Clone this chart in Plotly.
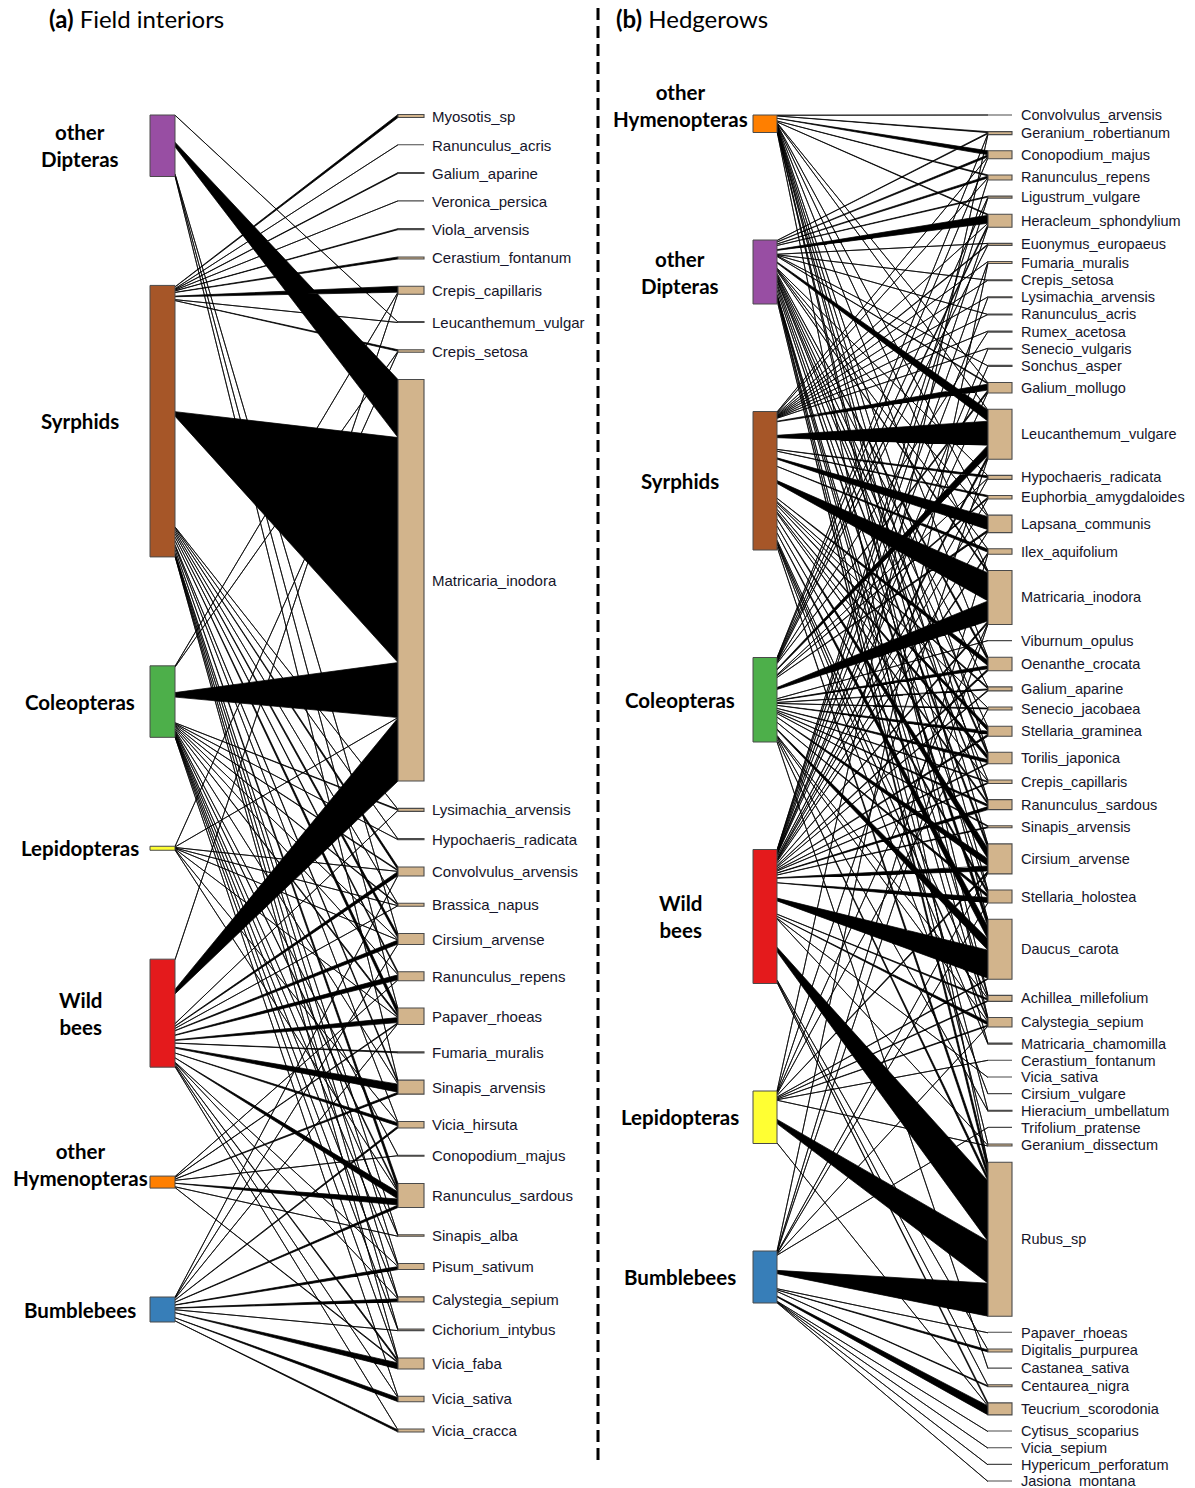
"""
Pollinator-plant webs: (a) field interiors, (b) hedgerows.
Bipartite plot: insect groups on the left, plants on the right,
link wedge width = number of interactions at the plant end.
"""
import plotly.graph_objects as go

# ── (a) Field interiors ───────────────────────────────────────────────────
FIELD_PLANTS = [
    "Myosotis_sp", "Ranunculus_acris", "Galium_aparine", "Veronica_persica",
    "Viola_arvensis", "Cerastium_fontanum", "Crepis_capillaris", "Leucanthemum_vulgar",
    "Crepis_setosa", "Matricaria_inodora", "Lysimachia_arvensis", "Hypochaeris_radicata",
    "Convolvulus_arvensis", "Brassica_napus", "Cirsium_arvense", "Ranunculus_repens",
    "Papaver_rhoeas", "Fumaria_muralis", "Sinapis_arvensis", "Vicia_hirsuta",
    "Conopodium_majus", "Ranunculus_sardous", "Sinapis_alba", "Pisum_sativum",
    "Calystegia_sepium", "Cichorium_intybus", "Vicia_faba", "Vicia_sativa", "Vicia_cracca",
]
FIELD_GROUPS = ["other\nDipteras", "Syrphids", "Coleopteras", "Lepidopteras",
                "Wild\nbees", "other\nHymenopteras", "Bumblebees"]
field_other_dipteras = [0, 0, 0, 0, 0, 0, 0, 0.5, 0, 58, 0, 0, 0, 0, 1, 0, 1, 0, 1, 0,
                        0, 0, 0, 0, 0, 0, 0, 0, 0]
field_syrphids = [3, 0.5, 1, 0.5, 1, 2, 6, 0.5, 1.5, 225, 1, 0.5, 3, 1, 4, 2, 6, 0, 2, 1,
                  0, 6, 0.5, 1, 1, 0.5, 1, 0, 0]
field_coleopteras = [0, 0, 0, 0, 0, 0, 1, 0, 0.5, 55, 1, 0.5, 1, 1, 1, 1, 2, 0, 1, 0,
                     0.5, 2, 0.5, 1, 0.5, 0.5, 1, 0.5, 0]
field_lepidopteras = [0, 0, 0, 0, 0, 0, 0, 0, 0.5, 0.5, 0, 0, 0.5, 0.5, 0.5, 0, 0.5, 0, 0, 0.5,
                      0, 0.5, 0, 0, 0, 0, 0, 0, 0]
field_wild_bees = [0, 0, 0, 0, 0, 0, 1, 0, 0, 63, 1, 0, 4, 0.5, 4, 5, 5, 1, 8, 3,
                   0, 7, 0, 1, 0.5, 0, 2, 1, 1]
field_other_hymenopteras = [0, 0, 0, 0, 0, 0, 0, 0, 0, 0, 0, 0, 0, 0, 0, 1, 1, 0, 2, 0,
                            0.5, 6, 0.5, 0, 0, 0, 1, 0, 0]
field_bumblebees = [0, 0, 0, 0, 0, 0, 0, 0, 0, 0, 0, 0, 0.5, 0, 0.5, 0, 1, 0, 0, 2,
                    0, 2.5, 0, 3, 3, 0.5, 6, 4, 2]

# ── (b) Hedgerows ─────────────────────────────────────────────────────────
HEDGE_PLANTS = [
    "Convolvulus_arvensis", "Geranium_robertianum", "Conopodium_majus", "Ranunculus_repens",
    "Ligustrum_vulgare", "Heracleum_sphondylium", "Euonymus_europaeus", "Fumaria_muralis",
    "Crepis_setosa", "Lysimachia_arvensis", "Ranunculus_acris", "Rumex_acetosa",
    "Senecio_vulgaris", "Sonchus_asper", "Galium_mollugo", "Leucanthemum_vulgare",
    "Hypochaeris_radicata", "Euphorbia_amygdaloides", "Lapsana_communis", "Ilex_aquifolium",
    "Matricaria_inodora", "Viburnum_opulus", "Oenanthe_crocata", "Galium_aparine",
    "Senecio_jacobaea", "Stellaria_graminea", "Torilis_japonica", "Crepis_capillaris",
    "Ranunculus_sardous", "Sinapis_arvensis", "Cirsium_arvense", "Stellaria_holostea",
    "Daucus_carota", "Achillea_millefolium", "Calystegia_sepium", "Matricaria_chamomilla",
    "Cerastium_fontanum", "Vicia_sativa", "Cirsium_vulgare", "Hieracium_umbellatum",
    "Trifolium_pratense", "Geranium_dissectum", "Rubus_sp", "Papaver_rhoeas",
    "Digitalis_purpurea", "Castanea_sativa", "Centaurea_nigra", "Teucrium_scorodonia",
    "Cytisus_scoparius", "Vicia_sepium", "Hypericum_perforatum", "Jasiona_montana",
]
HEDGE_GROUPS = ["other\nHymenopteras", "other\nDipteras", "Syrphids", "Coleopteras",
                "Wild\nbees", "Lepidopteras", "Bumblebees"]
hedge_other_hymenopteras = [0.5, 1, 4, 1, 0, 1, 0, 0, 0, 0, 0, 0, 0, 0, 0.5, 1, 0, 0, 0.5, 0,
                            0.5, 0, 0.5, 0, 0, 0, 0.5, 0, 1, 0, 1, 0.5, 1, 0.5, 0.5, 0, 0, 0, 0, 0,
                            0, 0, 2, 0, 0, 0, 0, 0, 0, 0, 0, 0]
hedge_other_dipteras = [0, 1, 2, 2, 1, 8, 0.5, 0, 0.5, 0, 0.5, 0, 0, 0.5, 1, 11, 0.5, 0, 1, 0.5,
                        2, 0, 3, 0.5, 0, 1, 3, 0.5, 2, 0, 4, 1, 7, 0.5, 1, 0.5, 0, 0, 0, 0.5,
                        0, 0.5, 7, 0, 0, 0, 0, 0, 0, 0, 0, 0]
hedge_syrphids = [0, 0, 1, 1, 0, 1, 1, 0.5, 0.5, 0.5, 0.5, 0.5, 0.5, 0, 6, 24, 2, 1.5, 13, 3,
                  28, 0, 5, 1.5, 1, 4, 4, 1, 2, 0, 10, 3, 12, 1.5, 2, 0.5, 0, 0, 0.5, 0,
                  0, 0, 6, 0, 0, 0, 0, 0, 0, 0, 0, 0]
hedge_coleopteras = [0, 0.5, 1, 0, 0.5, 2, 0.5, 0, 0, 0, 0, 0.5, 0, 0, 2, 10, 0.5, 1.5, 2, 0,
                     20, 0.5, 3, 1, 1, 3, 3, 1, 2, 1, 7, 3, 11, 1, 1, 0, 0, 0, 0, 0.5,
                     0, 0, 4, 0, 0, 0.5, 0, 0, 0, 0, 0, 0]
hedge_wild_bees = [0, 0, 0, 1, 0.5, 1, 0, 1, 0, 0.5, 0, 0, 0.5, 0.5, 1, 3, 1, 0.5, 1, 1.5,
                   2, 0, 2, 1, 0, 2, 1, 1, 3, 1, 5, 5, 28, 1.5, 3, 0, 0, 0.5, 0, 0,
                   0, 1, 60, 0, 1, 0, 1, 2, 0, 0, 0, 0]
hedge_lepidopteras = [0, 0.5, 0, 0, 0, 0, 0, 0, 0, 0, 0, 0, 0, 0, 0, 1, 0, 0, 0, 0,
                      1, 0, 0, 0, 1, 0, 0, 0, 0, 0, 2, 0, 1, 1, 1, 0, 0.5, 0, 0, 0,
                      0, 0.5, 42, 0, 0, 0, 0, 1, 0, 0, 0, 0]
hedge_bumblebees = [0, 0, 0, 0, 0, 0, 0, 0.5, 0, 0, 0, 0, 0, 0, 0, 0, 0, 0, 0, 0.5,
                    0.5, 0, 0, 0, 0, 0, 0, 0, 0, 0, 1, 0.5, 0, 0, 1, 0, 0, 0, 0, 0,
                    0.5, 0, 33, 0.5, 2, 0, 1, 9, 0.5, 0.5, 0.5, 0.5]

# ── styling ───────────────────────────────────────────────────────────────
GROUP_COLOURS = {
    "other\nDipteras": "#984EA3", "Syrphids": "#A65628", "Coleopteras": "#4DAF4A",
    "Lepidopteras": "#FFFF33", "Wild\nbees": "#E41A1C", "other\nHymenopteras": "#FF7F00",
    "Bumblebees": "#377EB8",
}
LABEL_YSHIFT = {"other\nHymenopteras": 18}
PLANT_FILL = "#D2B48C"
WIDTH, HEIGHT = 1195, 1488


def stack(sizes, top, bottom):
    """Top edge of each box when the boxes are spread evenly from top to bottom."""
    gap = (bottom - top - sum(sizes)) / (len(sizes) - 1)
    out, y = [], top
    for s in sizes:
        out.append(y)
        y += s + gap
    return out


def add_web(fig, plants, groups, weights, geo):
    n_p, n_g = len(plants), len(groups)
    for w in weights:
        assert len(w) == n_p
    g_tot = [sum(w) for w in weights]
    p_tot = [sum(weights[g][p] for g in range(n_g)) for p in range(n_p)]
    g_top = stack(g_tot, *geo["groups_span"])
    p_top = stack(p_tot, *geo["plants_span"])
    xg0, xg1 = geo["group_x"]
    xp0, xp1 = geo["plant_x"]

    # links: pointed at the insect end, full width at the plant end
    lx, ly = [], []
    p_cum = [0.0] * n_p
    for g in range(n_g):
        g_cum = 0.0
        for p in range(n_p):
            w = weights[g][p]
            if w <= 0:
                continue
            c = g_top[g] + g_cum + w / 2
            pw = min(w * 0.1, 4.5)
            q0 = p_top[p] + p_cum[p]
            lx += [xg1, xp0, xp0, xg1, xg1, None]
            ly += [c - pw / 2, q0, q0 + w, c + pw / 2, c - pw / 2, None]
            g_cum += w
            p_cum[p] += w
    fig.add_trace(go.Scatter(x=lx, y=ly, mode="lines", fill="toself",
                             fillcolor="black", line={"color": "black", "width": 0.75},
                             hoverinfo="skip", showlegend=False))

    # plant boxes
    bx, by = [], []
    for p in range(n_p):
        t, b = p_top[p], p_top[p] + p_tot[p]
        bx += [xp0, xp1, xp1, xp0, xp0, None]
        by += [t, t, b, b, t, None]
        fig.add_annotation(x=xp1 + geo["label_pad"], y=(t + b) / 2, text=plants[p],
                           xanchor="left", yanchor="middle", showarrow=False,
                           font={"family": "Liberation Sans, Arial", "size": geo["plant_font"],
                                 "color": "#15152a"})
    fig.add_trace(go.Scatter(x=bx, y=by, mode="lines", fill="toself", fillcolor=PLANT_FILL,
                             line={"color": "#4a4a4a", "width": 1.1},
                             hoverinfo="skip", showlegend=False))

    # insect group boxes
    for g, name in enumerate(groups):
        t, b = g_top[g], g_top[g] + g_tot[g]
        fig.add_trace(go.Scatter(x=[xg0, xg1, xg1, xg0, xg0], y=[t, t, b, b, t],
                                 mode="lines", fill="toself", fillcolor=GROUP_COLOURS[name],
                                 line={"color": "#4a4a4a", "width": 1},
                                 hoverinfo="skip", showlegend=False))
        fig.add_annotation(x=geo["group_label_x"], y=(t + b) / 2,
                           text="<b>" + name.replace("\n", "<br>") + "</b>",
                           xanchor="center", yanchor="middle", align="center",
                           showarrow=False, yshift=LABEL_YSHIFT.get(name, 0),
                           font={"family": "Lato, Carlito, sans-serif", "size": 20.5,
                                 "color": "black"})


fig = go.Figure()

add_web(fig, FIELD_PLANTS, FIELD_GROUPS,
        [field_other_dipteras, field_syrphids, field_coleopteras, field_lepidopteras,
         field_wild_bees, field_other_hymenopteras, field_bumblebees],
        {"groups_span": (115, 1322), "plants_span": (114.5, 1432),
         "group_x": (150, 175), "plant_x": (398, 424), "label_pad": 6,
         "plant_font": 15, "group_label_x": 80})

add_web(fig, HEDGE_PLANTS, HEDGE_GROUPS,
        [hedge_other_hymenopteras, hedge_other_dipteras, hedge_syrphids, hedge_coleopteras,
         hedge_wild_bees, hedge_lepidopteras, hedge_bumblebees],
        {"groups_span": (115, 1303), "plants_span": (115, 1481.5),
         "group_x": (753, 777), "plant_x": (988, 1012), "label_pad": 7,
         "plant_font": 14.5, "group_label_x": 680})

for x, txt in [(47, "<b>(a)</b> Field interiors"), (614, "<b>(b)</b> Hedgerows")]:
    fig.add_annotation(x=x, y=18, text=txt, xanchor="left", yanchor="middle",
                       showarrow=False,
                       font={"family": "Lato, Carlito, sans-serif", "size": 24, "color": "black"})

fig.add_shape(type="line", x0=598, x1=598, y0=8, y1=1460, xref="x", yref="y",
              line={"color": "black", "width": 3, "dash": "12px,6px"})

fig.update_layout(
    width=WIDTH, height=HEIGHT,
    margin={"l": 0, "r": 0, "t": 0, "b": 0},
    paper_bgcolor="white", plot_bgcolor="white",
    xaxis={"range": [0, WIDTH], "visible": False, "fixedrange": True},
    yaxis={"range": [HEIGHT, 0], "visible": False, "fixedrange": True},
    showlegend=False,
)

fig.write_html("out.html", config={"displayModeBar": False},
               post_script="document.body.style.margin='0';"
                           "document.body.style.overflow='hidden';")
